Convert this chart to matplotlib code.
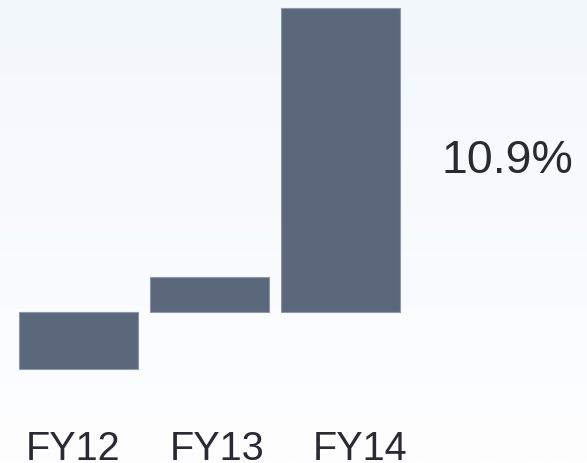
import matplotlib.pyplot as plt
import numpy as np

categories = ['FY12', 'FY13', 'FY14']
values = [-1.875, 1.15, 10.0]
growthLabel = '10.9%'

barColor = '#5b687b'
edgeColor = '#8e99a8'
textColor = '#2a2a33'

fig = plt.figure(figsize=(5.87, 4.63), dpi=100)
ax = fig.add_axes([0, 0, 1, 1])

# soft vertical gradient behind the bars
top = np.array([243, 248, 253]) / 255
bottom = np.array([254, 254, 255]) / 255
t = np.linspace(0, 1, 256)[:, None]
grad = top * (1 - t) + bottom * t
ax.imshow(grad[:, None, :], extent=[0, 1, 0, 1], transform=ax.transAxes,
          aspect='auto', zorder=0)

x = np.arange(len(categories))
ax.bar(x, values, width=0.908, color=barColor, edgecolor=edgeColor,
       linewidth=0.8, zorder=2)

ax.set_xlim(-0.599, 3.882)
ax.set_ylim(-4.967, 10.263)

# category labels sit on a slightly wider pitch than the bars
for i, name in enumerate(categories):
    ax.text(i * 1.095 - 0.401, 0.0065, name, transform=ax.get_xaxis_transform(),
            ha='left', va='baseline', fontsize=28.5, family='Liberation Sans',
            color=textColor, zorder=3)

ax.text(0.7525, 0.627, growthLabel, transform=ax.transAxes, ha='left',
        va='baseline', fontsize=33.5, family='Liberation Sans', color=textColor,
        zorder=3)

ax.axis('off')
fig.savefig('out.png', dpi=100)
